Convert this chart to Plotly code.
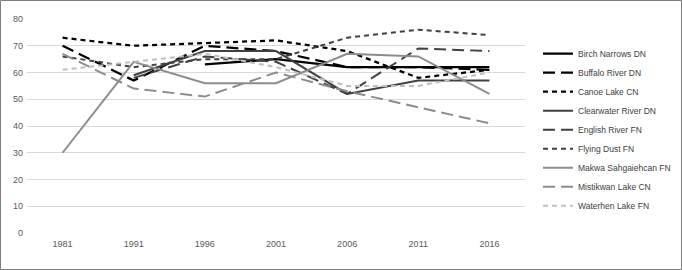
import plotly.graph_objects as go

years = ["1981", "1991", "1996", "2001", "2006", "2011", "2016"]

birch_narrows = [None, None, 63, 65, 62, 62, 62]
buffalo_river = [70, 57, 70, 68, 62, 62, 61]
canoe_lake = [73, 70, 71, 72, 68, 58, 61]
clearwater_river = [None, 59, 68, 68, 52, 57, 57]
english_river = [None, 58, 66, 64, 52, 69, 68]
flying_dust = [66, 62, 65, 65, 73, 76, 74]
makwa = [30, 64, 56, 56, 67, 66, 52]
mistikwan = [67, 54, 51, 60, 53, 47, 41]
waterhen = [61, 64, 67, 62, 55, 55, 60]

series = [
    ("Birch Narrows DN", birch_narrows, "#000000", "solid", 2.25),
    ("Buffalo River DN", buffalo_river, "#000000", "12px,6px", 2.25),
    ("Canoe Lake CN", canoe_lake, "#000000", "5px,4px", 2.25),
    ("Clearwater River DN", clearwater_river, "#404040", "solid", 2.0),
    ("English River FN", english_river, "#404040", "12px,6px", 2.0),
    ("Flying Dust FN", flying_dust, "#404040", "5px,4px", 2.0),
    ("Makwa Sahgaiehcan FN", makwa, "#8c8c8c", "solid", 2.0),
    ("Mistikwan Lake CN", mistikwan, "#8c8c8c", "12px,6px", 2.0),
    ("Waterhen Lake FN", waterhen, "#bfbfbf", "5px,4px", 2.0),
]

fig = go.Figure()
for name, vals, color, dash, w in series:
    fig.add_trace(go.Scatter(
        x=years, y=vals, name=name, mode="lines",
        line=dict(color=color, dash=dash, width=w),
        connectgaps=False,
    ))

W, H = 682, 270
ml, mr, mt, mb = 27, 157, 19, 37
pw = W - ml - mr
ph = H - mt - mb

fig.update_layout(
    width=W, height=H,
    margin=dict(l=ml, r=mr, t=mt, b=mb, autoexpand=False),
    paper_bgcolor="white", plot_bgcolor="white",
    font=dict(family="Liberation Sans Narrow, Liberation Sans, Arial", size=9, color="#595959"),
    showlegend=True,
    legend=dict(
        xref="container", yref="container",
        x=538 / W, y=0.855, xanchor="left", yanchor="top",
        font=dict(size=8.5, color="#404040"),
        itemwidth=30, tracegroupgap=0, maxheight=400,
        bgcolor="rgba(0,0,0,0)",
    ),
    xaxis=dict(
        type="category", range=[-0.5, 6.5], showgrid=False, zeroline=False, showline=False,
        ticks="", tickfont=dict(size=9, color="#595959"), automargin=False,
        ticklabelstandoff=4,
    ),
    yaxis=dict(
        range=[0, 80], dtick=10, showgrid=True, gridcolor="#d9d9d9", gridwidth=1,
        zeroline=False, showline=False, ticks="", automargin=False,
        tickfont=dict(size=9, color="#595959"), ticklabelstandoff=3,
    ),
    shapes=[dict(
        type="rect", xref="paper", yref="paper",
        x0=(0.5 - ml) / pw, x1=(W - 0.5 - ml) / pw,
        y0=-(mb - 0.5) / ph, y1=1 + (mt - 0.5) / ph,
        line=dict(color="#7f7f7f", width=1), fillcolor="rgba(0,0,0,0)",
        layer="below",
    )],
)

fig.write_html("out.html")
